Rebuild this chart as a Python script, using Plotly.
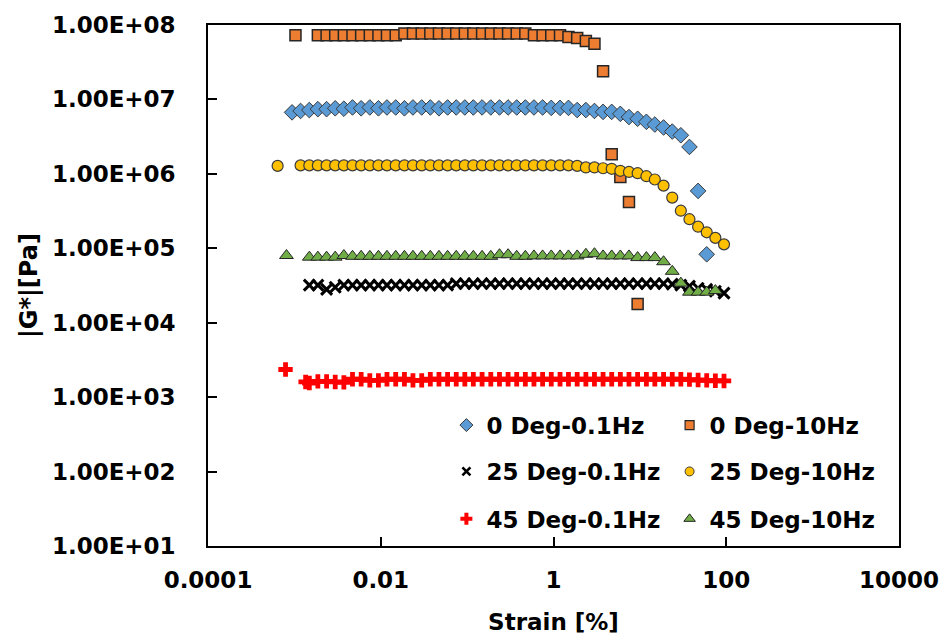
import plotly.graph_objects as go

# Common strain grid [%] (10 points per decade)
strain_grid = [0.00094, 0.00118, 0.00149, 0.00187, 0.00236, 0.00297, 0.00374, 0.00471,
               0.00593, 0.00747, 0.0094, 0.0118, 0.0149, 0.0188, 0.0236, 0.0298, 0.0375,
               0.0472, 0.0594, 0.0748, 0.0941, 0.118, 0.149, 0.188, 0.237, 0.298, 0.375,
               0.472, 0.594, 0.748, 0.942, 1.19, 1.49, 1.88, 2.37, 2.98, 3.75, 4.72, 5.94,
               7.48, 9.42, 11.9, 14.9, 18.8, 23.7, 29.8, 37.5, 47.2, 59.4, 74.8, 94.2]

# 0 Deg-0.1Hz
strain_0d_01 = strain_grid[0:49]
g_0d_01 = [6.7e6, 7.0e6, 7.2e6, 7.4e6, 7.4e6, 7.6e6, 7.5e6, 7.8e6, 7.6e6, 7.8e6,
           7.6e6, 7.8e6, 7.8e6, 7.6e6, 7.8e6, 7.8e6, 7.8e6, 7.6e6, 7.8e6, 7.8e6,
           7.8e6, 7.8e6, 7.8e6, 7.8e6, 7.8e6, 7.8e6, 7.8e6, 7.8e6, 7.8e6, 7.8e6,
           7.7e6, 7.7e6, 7.7e6, 7.2e6, 7.2e6, 7.0e6, 6.8e6, 6.8e6, 6.4e6, 5.8e6,
           5.5e6, 5.0e6, 4.6e6, 4.2e6, 3.7e6, 3.3e6, 2.3e6, 5.9e5, 8.3e4]

# 0 Deg-10Hz
strain_0d_10 = [0.00103] + strain_grid[3:41]
g_0d_10 = [7.3e7,
           7.3e7, 7.3e7, 7.3e7, 7.3e7, 7.3e7, 7.3e7, 7.3e7, 7.3e7, 7.3e7, 7.3e7,
           7.7e7, 7.7e7, 7.7e7, 7.7e7, 7.7e7, 7.7e7, 7.7e7, 7.7e7, 7.7e7, 7.7e7,
           7.7e7, 7.7e7, 7.7e7, 7.7e7, 7.7e7, 7.3e7, 7.3e7, 7.3e7, 7.3e7, 6.9e7,
           6.7e7, 6.1e7, 5.6e7, 2.4e7, 1.83e6, 9.1e5, 4.2e5, 1.78e4]

# 25 Deg-0.1Hz
strain_25d_01 = strain_grid[2:51]
g_25d_01 = [3.2e4, 3.2e4, 2.8e4, 3.0e4, 3.2e4, 3.2e4, 3.2e4, 3.2e4, 3.2e4, 3.2e4,
            3.2e4, 3.2e4, 3.2e4, 3.2e4, 3.2e4, 3.2e4, 3.2e4, 3.35e4, 3.35e4, 3.35e4,
            3.35e4, 3.35e4, 3.35e4, 3.35e4, 3.35e4, 3.35e4, 3.35e4, 3.35e4, 3.35e4, 3.35e4,
            3.35e4, 3.35e4, 3.35e4, 3.35e4, 3.35e4, 3.35e4, 3.35e4, 3.35e4, 3.35e4, 3.35e4,
            3.35e4, 3.35e4, 3.3e4, 3.2e4, 3.1e4, 2.9e4, 2.8e4, 2.65e4, 2.5e4]

# 25 Deg-10Hz
strain_25d_10 = [0.00064] + strain_grid[1:51]
g_25d_10 = [1.28e6,
            1.3e6, 1.3e6, 1.3e6, 1.3e6, 1.3e6, 1.3e6, 1.3e6, 1.3e6, 1.3e6, 1.3e6,
            1.3e6, 1.3e6, 1.3e6, 1.3e6, 1.3e6, 1.3e6, 1.3e6, 1.3e6, 1.3e6, 1.3e6,
            1.3e6, 1.3e6, 1.3e6, 1.3e6, 1.3e6, 1.3e6, 1.3e6, 1.3e6, 1.3e6, 1.3e6,
            1.3e6, 1.3e6, 1.28e6, 1.22e6, 1.22e6, 1.19e6, 1.17e6, 1.10e6, 1.06e6, 1.02e6,
            9.3e5, 8.4e5, 6.95e5, 4.8e5, 3.2e5, 2.46e5, 1.95e5, 1.64e5, 1.38e5, 1.13e5]

# 45 Deg-0.1Hz
strain_45d_01 = [0.00079, 0.00135] + strain_grid[2:51]
g_45d_01 = [2.35e3, 1.6e3,
            1.55e3, 1.63e3, 1.63e3, 1.6e3, 1.58e3, 1.74e3, 1.74e3, 1.68e3, 1.68e3, 1.74e3,
            1.74e3, 1.74e3, 1.68e3, 1.68e3, 1.74e3, 1.74e3, 1.74e3, 1.74e3, 1.74e3, 1.74e3,
            1.74e3, 1.74e3, 1.74e3, 1.74e3, 1.74e3, 1.74e3, 1.74e3, 1.74e3, 1.74e3, 1.74e3,
            1.74e3, 1.74e3, 1.74e3, 1.74e3, 1.74e3, 1.74e3, 1.74e3, 1.74e3, 1.74e3, 1.74e3,
            1.74e3, 1.74e3, 1.74e3, 1.74e3, 1.72e3, 1.7e3, 1.68e3, 1.66e3, 1.65e3]

# 45 Deg-10Hz
strain_45d_10 = [0.00081] + strain_grid[2:51]
g_45d_10 = [8.0e4,
            7.6e4, 7.6e4, 7.6e4, 7.6e4, 8.0e4, 7.8e4, 7.8e4, 7.8e4, 7.8e4, 7.8e4,
            7.8e4, 7.8e4, 7.8e4, 7.8e4, 7.8e4, 7.8e4, 7.8e4, 7.8e4, 7.8e4, 7.8e4,
            7.8e4, 7.8e4, 8.2e4, 8.2e4, 7.8e4, 7.8e4, 7.9e4, 7.9e4, 7.9e4, 7.9e4,
            7.9e4, 7.9e4, 8.3e4, 8.45e4, 7.9e4, 7.9e4, 7.9e4, 7.9e4, 7.5e4, 7.5e4,
            7.5e4, 6.6e4, 4.9e4, 3.4e4, 2.57e4, 2.57e4, 2.57e4, 2.7e4]

series_names = ["0 Deg-0.1Hz", "0 Deg-10Hz", "25 Deg-0.1Hz",
                "25 Deg-10Hz", "45 Deg-0.1Hz", "45 Deg-10Hz"]

x_tickvals = [1e-4, 1e-2, 1, 100, 1e4]
x_ticktext = ["0.0001", "0.01", "1", "100", "10000"]
y_tickvals = [1e1, 1e2, 1e3, 1e4, 1e5, 1e6, 1e7, 1e8]
y_ticktext = ["1.00E+01", "1.00E+02", "1.00E+03", "1.00E+04",
              "1.00E+05", "1.00E+06", "1.00E+07", "1.00E+08"]

FONT = "DejaVu Sans"

styles = [
    dict(symbol="diamond", color="#5B9BD5", size=12, line=dict(color="#3a3a3a", width=1)),
    dict(symbol="square", color="#ED7D31", size=11, line=dict(color="#262626", width=1.5)),
    dict(symbol="x-thin", color="#000000", size=11, line=dict(color="#000000", width=3)),
    dict(symbol="circle", color="#FFC000", size=11, line=dict(color="#3a3a3a", width=1.2)),
    dict(symbol="cross", color="#FF0000", size=12, line=dict(color="#FF0000", width=0)),
    dict(symbol="triangle-up", color="#70AD47", size=12, line=dict(color="#262626", width=1)),
]
legend_styles = [
    dict(symbol="diamond", color="#5B9BD5", size=10, line=dict(color="#3a3a3a", width=1)),
    dict(symbol="square", color="#ED7D31", size=9, line=dict(color="#262626", width=1.2)),
    dict(symbol="x-thin", color="#000000", size=8, line=dict(color="#000000", width=2.6)),
    dict(symbol="circle", color="#FFC000", size=9, line=dict(color="#3a3a3a", width=1)),
    dict(symbol="cross", color="#FF0000", size=10, line=dict(color="#FF0000", width=0)),
    dict(symbol="triangle-up", color="#70AD47", size=10, line=dict(color="#262626", width=1)),
]

data = [(strain_0d_01, g_0d_01), (strain_0d_10, g_0d_10), (strain_25d_01, g_25d_01),
        (strain_25d_10, g_25d_10), (strain_45d_01, g_45d_01), (strain_45d_10, g_45d_10)]

fig = go.Figure()
legend_ids = ["legend", "legend2", "legend3", "legend4", "legend5", "legend6"]
for i, (xs, ys) in enumerate(data):
    fig.add_trace(go.Scatter(x=xs, y=ys, mode="markers", name=series_names[i],
                             marker=styles[i], showlegend=False))
for i in range(6):
    fig.add_trace(go.Scatter(x=[None], y=[None], mode="markers", name=series_names[i],
                             marker=legend_styles[i], showlegend=True,
                             legend=legend_ids[i]))

# legend placement (paper coords) : 2 columns x 3 rows
leg_x = [0.345, 0.668]
leg_y = [0.232, 0.143, 0.052]
legend_layout = {}
for i in range(6):
    legend_layout[legend_ids[i]] = dict(
        x=leg_x[i % 2], y=leg_y[i // 2], xanchor="left", yanchor="middle",
        bgcolor="rgba(0,0,0,0)", borderwidth=0,
        font=dict(family=FONT, size=23, color="black", weight="bold"),
        itemwidth=30)

fig.update_layout(
    width=951, height=643,
    margin=dict(l=208, r=44, t=18, b=95),
    paper_bgcolor="white", plot_bgcolor="white",
    **legend_layout,
)
fig.update_xaxes(type="log", range=[-4, 4], tickvals=x_tickvals, ticktext=x_ticktext,
                 ticks="inside", ticklen=9, tickwidth=1.5, tickcolor="black",
                 showline=True, linecolor="black", linewidth=1.5, mirror=True,
                 showgrid=False, zeroline=False, ticklabelstandoff=13,
                 tickfont=dict(family=FONT, size=23, color="black", weight="bold"),
                 title=dict(text="Strain [%]", standoff=22,
                            font=dict(family=FONT, size=23, color="black", weight="bold")))
fig.update_yaxes(type="log", range=[1, 8], tickvals=y_tickvals, ticktext=y_ticktext,
                 ticks="inside", ticklen=9, tickwidth=1.5, tickcolor="black",
                 showline=True, linecolor="black", linewidth=1.5, mirror=True,
                 showgrid=False, zeroline=False, ticklabelstandoff=26,
                 tickfont=dict(family=FONT, size=23, color="black", weight="bold"),
                 title=dict(text="|G*|[Pa]", standoff=8,
                            font=dict(family=FONT, size=24, color="black", weight="bold")))

fig.write_html("out.html")
